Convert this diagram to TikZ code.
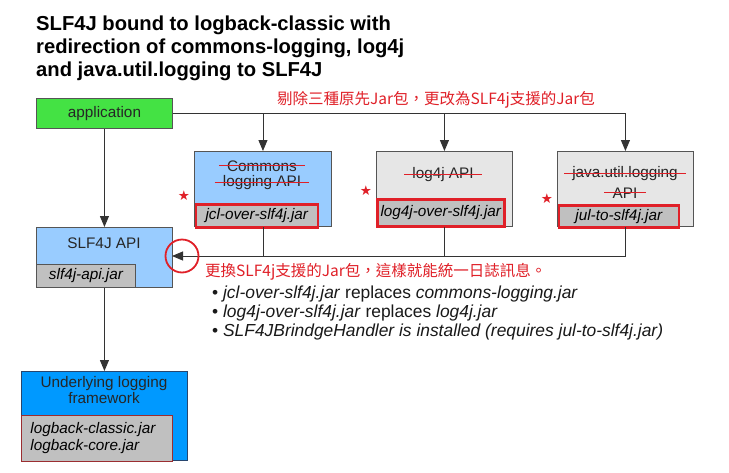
\documentclass[tikz,border=0pt]{standalone}
\usepackage{fontspec}
\setmainfont{Liberation Sans}
\newfontfamily\cjk{Noto Sans CJK TC}
\newfontfamily\djv{DejaVu Sans}
\usetikzlibrary{arrows.meta}
\definecolor{appgreen}{RGB}{68,226,68}
\definecolor{lblue}{RGB}{153,204,255}
\definecolor{lgray}{RGB}{230,230,230}
\definecolor{jargray}{RGB}{192,192,192}
\definecolor{ublue}{RGB}{0,153,255}
\definecolor{redmk}{RGB}{224,32,40}
\definecolor{edge}{RGB}{85,85,85}
\definecolor{dred}{RGB}{155,45,48}
\definecolor{navy}{RGB}{40,70,110}
\tikzset{
  box/.style={draw=edge,line width=0.9pt,anchor=north west,inner sep=0pt},
  jarbox/.style={draw=redmk,line width=2.6pt,fill=jargray,anchor=north west,inner sep=0pt,font=\itshape\fontsize{15.3}{16}\selectfont},
  txt/.style={font=\fontsize{15.3}{16}\selectfont,text=black!85},
  struck/.style={txt,inner xsep=8pt,inner ysep=1pt},
  conn/.style={draw=black!80,line width=0.9pt},
  arr/.style={conn,-{Triangle[length=11pt,width=9pt]}},
  note/.style={font=\cjk\fontsize{15.5}{16}\selectfont,text=redmk,anchor=west,inner sep=0pt},
  star/.style={text=redmk,font=\djv\fontsize{13.5}{13.5}\selectfont,inner sep=0pt},
  bullet/.style={anchor=west,inner sep=0pt,font=\fontsize{17.4}{19}\selectfont,text=black!90}
}
\begin{document}
\begin{tikzpicture}[x=1pt,y=-1pt]
\useasboundingbox[fill=white] (0,0) rectangle (729,472);
% title
\node[anchor=north west,align=left,inner sep=0pt,font=\bfseries\fontsize{20.2}{23}\selectfont] (title) at (36,16)
 {SLF4J bound to logback-classic with\\redirection of commons-logging, log4j\\and java.util.logging to SLF4J};
% application
\node[box,fill=appgreen,minimum width=136pt,minimum height=30pt,txt] (app) at (36,98) {application};
% three API boxes
\node[box,fill=lblue,minimum width=137pt,minimum height=75pt] (cl) at (194,151) {};
\node[box,fill=lgray,minimum width=136pt,minimum height=75pt] (l4) at (376,151) {};
\node[box,fill=lgray,minimum width=136pt,minimum height=75pt] (ju) at (557,151) {};
% struck labels
\node[struck] (clt1) at (262,166) {Commons};
\node[struck] (clt2) at (262,183) {logging API};
\node[struck] (l4t) at (443,175) {log4j API};
\node[struck] (jut1) at (625,174) {java.util.logging};
\node[struck] (jut2) at (625,193) {API};
\foreach \n in {clt1,clt2,l4t,jut1,jut2}{\draw[redmk,line width=1pt] ([yshift=1pt]\n.west) -- ([yshift=1pt]\n.east);}
% jars
\node[jarbox,minimum width=122pt,minimum height=23pt] (cljar) at (194.5,203) {jcl-over-slf4j.jar};
\node[jarbox,minimum width=127pt,minimum height=27pt] (l4jar) at (376,198) {log4j-over-slf4j.jar};
\node[jarbox,minimum width=120pt,minimum height=22pt] (jujar) at (557.5,204) {jul-to-slf4j.jar};
% stars
\node[star] (s1) at (184,196) {★};
\node[star] (s2) at (366,191) {★};
\node[star] (s3) at (547,199) {★};
% SLF4J API
\node[box,fill=lblue,minimum width=136pt,minimum height=60pt] (slf) at (36,227) {};
\node[txt] (slft) at (104,243) {SLF4J API};
\node[box,fill=jargray,minimum width=99pt,minimum height=23pt,font=\itshape\fontsize{15.3}{16}\selectfont] (slfjar) at (36,264) {slf4j-api.jar};
% underlying
\node[box,fill=ublue,draw=navy,minimum width=166pt,minimum height=89pt] (ul) at (21,371) {};
\node[txt,align=center,font=\fontsize{15.3}{16.5}\selectfont] (ult) at (104,390) {Underlying logging\\framework};
\node[box,fill=jargray,draw=dred,minimum width=143pt,minimum height=46pt,align=left,text width=133pt,inner xsep=9pt,font=\itshape\fontsize{15.3}{17}\selectfont] (uljar) at (21,415) {logback-classic.jar\\logback-core.jar};
% connectors top
\draw[arr] (app.east) -| (ju.north);
\draw[arr] (cl.north |- app.east) -- (cl.north);
\draw[arr] (l4.north |- app.east) -- (l4.north);
\draw[arr] (app.south) -- (slf.north);
\draw[arr] (slf.south) -- (ul.north);
% bottom connectors
\coordinate (tip) at (172,256);
\draw[conn] (cl.south) -- (cl.south |- tip);
\draw[conn] (l4.south) -- (l4.south |- tip);
\draw[arr] (ju.south) |- (tip);
\node[draw=redmk,line width=1.8pt,circle,minimum size=33pt,inner sep=0pt] (ring) at (182,256) {};
% notes
\node[note] (n1) at (277,100) {剔除三種原先Jar包，更改為SLF4j支援的Jar包};
\node[note] (n2) at (205,272) {更換SLF4j支援的Jar包，這樣就能統一日誌訊息。};
\node[bullet] (b1) at (212,294) {• \textit{jcl-over-slf4j.jar} replaces \textit{commons-logging.jar}};
\node[bullet] (b2) at (212,313) {• \textit{log4j-over-slf4j.jar} replaces \textit{log4j.jar}};
\node[bullet] (b3) at (212,332) {• \textit{SLF4JBrindgeHandler is installed (requires jul-to-slf4j.jar)}};
\end{tikzpicture}
\end{document}
